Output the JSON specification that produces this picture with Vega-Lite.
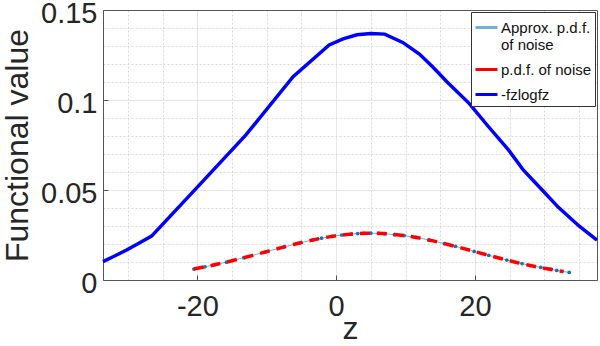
{
  "$schema": "https://vega.github.io/schema/vega-lite/v6.json",
  "width": 494,
  "height": 270,
  "autosize": {"type": "none"},
  "padding": {"left": 103, "top": 10, "right": 3, "bottom": 66},
  "background": "white",
  "config": {
    "font": "Liberation Sans",
    "view": {"stroke": null},
    "axis": {"titleFontWeight": "normal", "labelColor": "#262626", "titleColor": "#262626", "domainColor": "#555555", "tickColor": "#555555"}
  },
  "datasets": {
    "fz": [
      {"z": -33.6, "v": 0.0102, "series": "-fzlogfz"},
      {"z": -32.0, "v": 0.0132, "series": "-fzlogfz"},
      {"z": -30.2, "v": 0.0167, "series": "-fzlogfz"},
      {"z": -28.5, "v": 0.0203, "series": "-fzlogfz"},
      {"z": -26.6, "v": 0.0244, "series": "-fzlogfz"},
      {"z": -20.1, "v": 0.0512, "series": "-fzlogfz"},
      {"z": -13.0, "v": 0.0806, "series": "-fzlogfz"},
      {"z": -6.2, "v": 0.1130, "series": "-fzlogfz"},
      {"z": -1.0, "v": 0.1306, "series": "-fzlogfz"},
      {"z": 1.0, "v": 0.1340, "series": "-fzlogfz"},
      {"z": 3.0, "v": 0.1362, "series": "-fzlogfz"},
      {"z": 5.0, "v": 0.1370, "series": "-fzlogfz"},
      {"z": 7.0, "v": 0.1366, "series": "-fzlogfz"},
      {"z": 9.6, "v": 0.1320, "series": "-fzlogfz"},
      {"z": 12.0, "v": 0.1255, "series": "-fzlogfz"},
      {"z": 13.9, "v": 0.1185, "series": "-fzlogfz"},
      {"z": 16.0, "v": 0.1100, "series": "-fzlogfz"},
      {"z": 19.2, "v": 0.0980, "series": "-fzlogfz"},
      {"z": 22.0, "v": 0.0850, "series": "-fzlogfz"},
      {"z": 24.9, "v": 0.0720, "series": "-fzlogfz"},
      {"z": 27.0, "v": 0.0610, "series": "-fzlogfz"},
      {"z": 29.7, "v": 0.0500, "series": "-fzlogfz"},
      {"z": 32.0, "v": 0.0405, "series": "-fzlogfz"},
      {"z": 35.0, "v": 0.0300, "series": "-fzlogfz"},
      {"z": 37.6, "v": 0.0222, "series": "-fzlogfz"}
    ],
    "pdf": [
      {"z": -20.5, "v": 0.00613, "series": "p.d.f. of noise"},
      {"z": -18, "v": 0.00802, "series": "p.d.f. of noise"},
      {"z": -16, "v": 0.00975, "series": "p.d.f. of noise"},
      {"z": -14, "v": 0.01166, "series": "p.d.f. of noise"},
      {"z": -12, "v": 0.01368, "series": "p.d.f. of noise"},
      {"z": -10, "v": 0.01577, "series": "p.d.f. of noise"},
      {"z": -8, "v": 0.01786, "series": "p.d.f. of noise"},
      {"z": -6, "v": 0.01987, "series": "p.d.f. of noise"},
      {"z": -4, "v": 0.02172, "series": "p.d.f. of noise"},
      {"z": -2, "v": 0.02332, "series": "p.d.f. of noise"},
      {"z": 0, "v": 0.0246, "series": "p.d.f. of noise"},
      {"z": 2, "v": 0.02548, "series": "p.d.f. of noise"},
      {"z": 4, "v": 0.02594, "series": "p.d.f. of noise"},
      {"z": 6, "v": 0.02594, "series": "p.d.f. of noise"},
      {"z": 8, "v": 0.02548, "series": "p.d.f. of noise"},
      {"z": 10, "v": 0.0246, "series": "p.d.f. of noise"},
      {"z": 12, "v": 0.02332, "series": "p.d.f. of noise"},
      {"z": 14, "v": 0.02172, "series": "p.d.f. of noise"},
      {"z": 16, "v": 0.01987, "series": "p.d.f. of noise"},
      {"z": 18, "v": 0.01786, "series": "p.d.f. of noise"},
      {"z": 20, "v": 0.01577, "series": "p.d.f. of noise"},
      {"z": 22, "v": 0.01368, "series": "p.d.f. of noise"},
      {"z": 24, "v": 0.01166, "series": "p.d.f. of noise"},
      {"z": 26, "v": 0.00975, "series": "p.d.f. of noise"},
      {"z": 28, "v": 0.00802, "series": "p.d.f. of noise"},
      {"z": 30, "v": 0.00648, "series": "p.d.f. of noise"},
      {"z": 32, "v": 0.00515, "series": "p.d.f. of noise"},
      {"z": 32.8, "v": 0.00467, "series": "p.d.f. of noise"}
    ],
    "approx": [
      {"z": -20.5, "v": 0.0061, "series": "Approx. p.d.f. of noise"},
      {"z": -18.9, "v": 0.0073, "series": "Approx. p.d.f. of noise"},
      {"z": -17.5, "v": 0.0085, "series": "Approx. p.d.f. of noise"},
      {"z": -15.8, "v": 0.0099, "series": "Approx. p.d.f. of noise"},
      {"z": -13.3, "v": 0.0124, "series": "Approx. p.d.f. of noise"},
      {"z": -10.2, "v": 0.0156, "series": "Approx. p.d.f. of noise"},
      {"z": -7.5, "v": 0.0184, "series": "Approx. p.d.f. of noise"},
      {"z": -5.5, "v": 0.0204, "series": "Approx. p.d.f. of noise"},
      {"z": -3.4, "v": 0.0222, "series": "Approx. p.d.f. of noise"},
      {"z": -2.1, "v": 0.0232, "series": "Approx. p.d.f. of noise"},
      {"z": -0.6, "v": 0.0243, "series": "Approx. p.d.f. of noise"},
      {"z": 0.8, "v": 0.0250, "series": "Approx. p.d.f. of noise"},
      {"z": 2.2, "v": 0.0255, "series": "Approx. p.d.f. of noise"},
      {"z": 3.1, "v": 0.0258, "series": "Approx. p.d.f. of noise"},
      {"z": 4.0, "v": 0.0259, "series": "Approx. p.d.f. of noise"},
      {"z": 5.0, "v": 0.0260, "series": "Approx. p.d.f. of noise"},
      {"z": 6.1, "v": 0.0259, "series": "Approx. p.d.f. of noise"},
      {"z": 7.0, "v": 0.0257, "series": "Approx. p.d.f. of noise"},
      {"z": 8.4, "v": 0.0252, "series": "Approx. p.d.f. of noise"},
      {"z": 9.8, "v": 0.0247, "series": "Approx. p.d.f. of noise"},
      {"z": 11.5, "v": 0.0237, "series": "Approx. p.d.f. of noise"},
      {"z": 13.4, "v": 0.0222, "series": "Approx. p.d.f. of noise"},
      {"z": 15.6, "v": 0.0202, "series": "Approx. p.d.f. of noise"},
      {"z": 17.2, "v": 0.0187, "series": "Approx. p.d.f. of noise"},
      {"z": 19.9, "v": 0.0159, "series": "Approx. p.d.f. of noise"},
      {"z": 22.0, "v": 0.0137, "series": "Approx. p.d.f. of noise"},
      {"z": 24.6, "v": 0.0111, "series": "Approx. p.d.f. of noise"},
      {"z": 26.8, "v": 0.0091, "series": "Approx. p.d.f. of noise"},
      {"z": 28.0, "v": 0.0080, "series": "Approx. p.d.f. of noise"},
      {"z": 29.5, "v": 0.0070, "series": "Approx. p.d.f. of noise"},
      {"z": 30.9, "v": 0.0060, "series": "Approx. p.d.f. of noise"},
      {"z": 31.8, "v": 0.0053, "series": "Approx. p.d.f. of noise"},
      {"z": 33.6, "v": 0.0042, "series": "Approx. p.d.f. of noise"}
    ]
  },
  "layer": [
    {
      "data": {"name": "fz"},
      "mark": {"type": "line", "strokeWidth": 3.5},
      "encoding": {
        "x": {"field": "z", "type": "quantitative",
          "scale": {"domain": [-33.6, 37.6], "nice": false, "zero": false},
          "axis": {"orient": "top", "values": [-30, -25, -15, -10, -5, 5, 10, 15, 25, 30, 35], "labels": false, "ticks": false, "title": null, "domain": true, "domainColor": "#555555", "grid": true, "gridColor": "#d9d9d9", "gridDash": [2, 2]}},
        "y": {"field": "v", "type": "quantitative",
          "scale": {"domain": [0, 0.15], "nice": false},
          "axis": {"orient": "right", "values": [0.01, 0.02, 0.03, 0.04, 0.06, 0.07, 0.08, 0.09, 0.11, 0.12, 0.13, 0.14], "labels": false, "ticks": false, "title": null, "domain": true, "domainColor": "#555555", "grid": true, "gridColor": "#d9d9d9", "gridDash": [2, 2]}},
        "color": {"field": "series", "type": "nominal",
          "scale": {"domain": ["Approx. p.d.f. of noise", "p.d.f. of noise", "-fzlogfz"], "range": ["#6fb0e0", "#ff0000", "#0000ff"]},
          "legend": {"orient": "top-right", "offset": 2, "title": null, "symbolType": "stroke", "symbolSize": 484, "symbolStrokeWidth": 3, "labelFontSize": 15, "labelColor": "#111111", "labelExpr": "datum.label == 'Approx. p.d.f. of noise' ? ['Approx. p.d.f.', 'of noise'] : datum.label", "strokeColor": "#333333", "fillColor": "white", "padding": 3, "rowPadding": 4, "labelOffset": 2}}
      }
    },
    {
      "layer": [
        {
          "data": {"name": "approx"},
          "mark": {"type": "line", "strokeWidth": 1},
          "encoding": {
            "x": {"field": "z", "type": "quantitative"},
            "y": {"field": "v", "type": "quantitative"},
            "color": {"field": "series", "type": "nominal"}
          }
        },
        {
          "data": {"name": "approx"},
          "mark": {"type": "point", "filled": true, "size": 14, "color": "#1f6fc0", "opacity": 1},
          "encoding": {
            "x": {"field": "z", "type": "quantitative"},
            "y": {"field": "v", "type": "quantitative"}
          }
        },
        {
          "data": {"name": "pdf"},
          "mark": {"type": "line", "strokeWidth": 3.5, "strokeDash": [10, 7]},
          "encoding": {
            "x": {"field": "z", "type": "quantitative"},
            "y": {"field": "v", "type": "quantitative"},
            "color": {"field": "series", "type": "nominal"}
          }
        }
      ],
      "encoding": {
        "x": {"field": "z", "type": "quantitative",
          "axis": {"orient": "bottom", "values": [-20, 0, 20], "labelExpr": "'' + datum.value", "title": "z", "titleFontSize": 32, "titlePadding": -8, "labelFontSize": 29, "labelPadding": 17, "tickSize": -5, "grid": true, "gridColor": "#e6e6e6"}},
        "y": {"field": "v", "type": "quantitative",
          "axis": {"orient": "left", "values": [0, 0.05, 0.1, 0.15], "labelExpr": "'' + datum.value", "title": "Functional value", "titleFontSize": 32, "titlePadding": 6, "labelFontSize": 29, "labelPadding": 11, "labelOffset": 3, "tickSize": -5, "grid": true, "gridColor": "#e6e6e6"}}
      }
    }
  ],
  "resolve": {"axis": {"x": "independent", "y": "independent"}}
}
